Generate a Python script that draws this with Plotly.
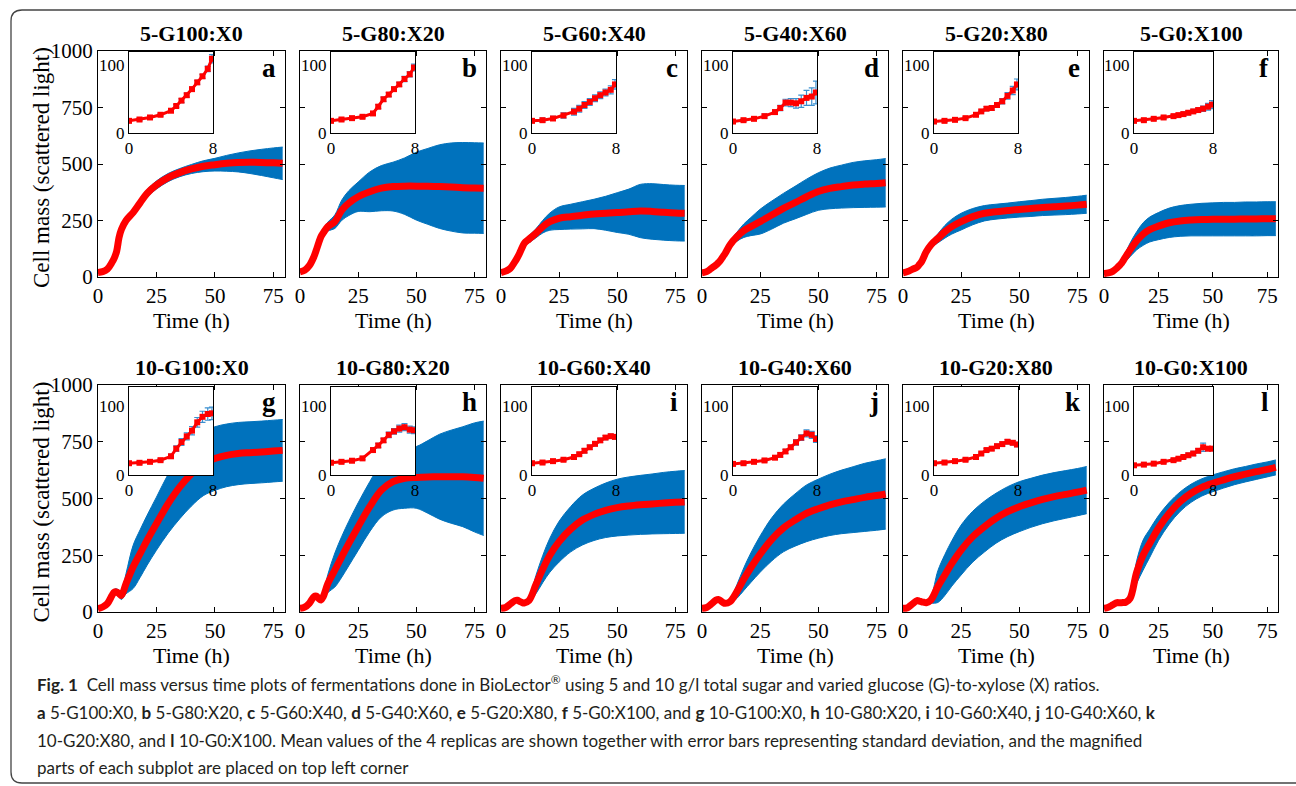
import plotly.graph_objects as go

# ---------------- data ----------------
TITLES = ["5-G100:X0", "5-G80:X20", "5-G60:X40", "5-G40:X60", "5-G20:X80", "5-G0:X100",
          "10-G100:X0", "10-G80:X20", "10-G60:X40", "10-G40:X60", "10-G20:X80", "10-G0:X100"]
LETTERS = ["a", "b", "c", "d", "e", "f", "g", "h", "i", "j", "k", "l"]

T_MAIN = [0, 2, 4, 6, 7, 8, 9, 10, 12, 15, 18, 21, 25, 30, 35, 40, 45, 50, 55, 60, 65, 70, 75, 79]

MEAN_A = [20, 24, 35, 65, 85, 115, 175, 210, 250, 285, 328, 370, 407, 440, 462, 478, 490, 497, 503, 507, 508, 507, 505, 503]
SD_A = [5, 5, 6, 8, 10, 12, 15, 15, 15, 16, 17, 17, 18, 18, 18, 20, 24, 28, 35, 42, 50, 58, 66, 72]
MEAN_B = [23, 30, 50, 90, 119, 150, 178, 195, 223, 245, 296, 327, 355, 377, 393, 400, 402, 402, 401, 400, 398, 395, 394, 393]
SD_B = [5, 5, 6, 8, 10, 12, 14, 16, 20, 30, 45, 55, 65, 88, 100, 108, 125, 150, 168, 185, 195, 200, 200, 200]
MEAN_C = [20, 26, 38, 68, 85, 105, 128, 149, 167, 193, 223, 245, 260, 267, 273, 279, 282, 285, 289, 292, 290, 286, 283, 282]
SD_C = [5, 5, 6, 8, 9, 10, 12, 14, 16, 20, 28, 38, 50, 55, 60, 65, 75, 88, 100, 118, 123, 123, 123, 123]
MEAN_D = [19, 24, 38, 53, 63, 75, 90, 105, 142, 178, 205, 223, 245, 274, 304, 329, 355, 378, 392, 400, 407, 411, 414, 417]
SD_D = [4, 5, 6, 7, 8, 9, 10, 12, 15, 20, 30, 40, 55, 62, 66, 72, 78, 83, 90, 95, 100, 103, 105, 107]
MEAN_E = [19, 24, 34, 43, 55, 68, 90, 112, 142, 171, 200, 223, 245, 267, 282, 289, 294, 299, 303, 308, 311, 314, 318, 322]
SD_E = [4, 5, 5, 6, 7, 8, 10, 12, 15, 20, 28, 33, 37, 36, 34, 33, 33, 34, 35, 36, 37, 38, 39, 40]
MEAN_F = [15, 18, 25, 40, 50, 60, 75, 90, 120, 160, 190, 210, 225, 240, 248, 252, 254, 255, 256, 256, 257, 257, 258, 258]
SD_F = [4, 5, 6, 8, 10, 12, 15, 20, 30, 40, 50, 55, 60, 65, 68, 70, 72, 73, 74, 74, 75, 75, 75, 75]
MEAN_G = [15, 22, 37, 73, 88, 88, 81, 73, 125, 198, 257, 316, 389, 477, 551, 609, 653, 676, 690, 698, 702, 705, 709, 712]
SD_G = [4, 5, 6, 10, 12, 14, 15, 18, 45, 95, 105, 110, 117, 130, 140, 142, 141, 140, 138, 137, 136, 136, 136, 136]
MEAN_H = [16, 21, 38, 68, 70, 60, 53, 68, 126, 185, 244, 302, 376, 464, 537, 574, 589, 593, 595, 596, 596, 596, 593, 589]
SD_H = [4, 5, 6, 8, 8, 8, 8, 10, 40, 75, 90, 98, 105, 110, 118, 125, 132, 136, 160, 187, 205, 220, 240, 252]
MEAN_I = [16, 20, 35, 50, 52, 47, 42, 40, 50, 120, 190, 250, 310, 365, 405, 430, 448, 460, 467, 472, 476, 480, 483, 485]
SD_I = [3, 4, 5, 6, 6, 6, 6, 6, 10, 40, 60, 75, 90, 100, 110, 115, 120, 125, 128, 130, 132, 135, 137, 138]
MEAN_J = [16, 20, 35, 52, 55, 50, 42, 38, 45, 90, 145, 195, 255, 320, 370, 405, 435, 455, 472, 485, 495, 505, 513, 520]
SD_J = [3, 4, 5, 6, 6, 6, 6, 6, 8, 30, 50, 65, 80, 95, 105, 115, 125, 130, 135, 140, 145, 150, 153, 155]
MEAN_K = [16, 19, 35, 50, 48, 45, 43, 41, 53, 112, 163, 214, 273, 332, 376, 413, 442, 464, 481, 496, 508, 518, 528, 537]
SD_K = [3, 4, 5, 6, 6, 6, 6, 6, 15, 70, 90, 100, 110, 112, 112, 110, 110, 110, 108, 107, 106, 105, 104, 104]
MEAN_L = [16, 21, 31, 41, 41, 41, 42, 43, 60, 175, 251, 302, 369, 435, 486, 523, 549, 567, 582, 596, 607, 618, 628, 637]
SD_L = [3, 4, 5, 5, 5, 5, 5, 6, 10, 50, 66, 62, 55, 48, 43, 40, 38, 37, 36, 35, 34, 34, 33, 33]

T_INSET = [0, 1, 2, 3, 4, 4.5, 5, 5.5, 6, 6.5, 7, 7.5, 7.9]

IMEAN_A = [18, 20, 23, 27, 33, 40, 48, 56, 65, 75, 84, 95, 110]
ISD_A = [2, 2, 2, 2, 2, 2, 3, 3, 3, 3, 3, 4, 6]
IMEAN_B = [18, 20, 22, 24, 29, 39, 50, 57, 65, 72, 80, 87, 97]
ISD_B = [2, 2, 2, 2, 2, 3, 3, 3, 3, 3, 4, 4, 5]
IMEAN_C = [18, 19, 21.5, 26, 31.5, 36, 41.5, 46, 51.5, 56, 60, 64, 72]
ISD_C = [2, 3, 3, 4, 5, 5, 5, 5, 5, 5, 5, 6, 7]
IMEAN_D = [17, 19, 21, 25, 31, 37, 45, 45, 44, 47, 52, 54, 60]
ISD_D = [2, 2, 2, 3, 3, 4, 5, 6, 7, 9, 11, 13, 17]
IMEAN_E = [17, 18, 19.5, 22, 27, 32, 36, 37, 41.5, 47, 55, 63, 72]
ISD_E = [2, 2, 2, 2, 2, 2, 3, 3, 3, 4, 5, 6, 8]
IMEAN_F = [18, 19, 21, 23, 25, 26.5, 28, 30, 32, 34, 36, 39, 42]
ISD_F = [2, 2, 2, 2, 2, 2, 3, 3, 3, 3, 4, 5, 6]
IMEAN_G = [17, 17.6, 19, 21.4, 27, 38, 47.6, 55.7, 64, 76, 84, 88, 89]
ISD_G = [2, 2, 2, 2, 3, 4, 5, 5, 6, 7, 8, 9, 9]
IMEAN_H = [17.7, 19, 20.6, 24, 36, 42.6, 50, 58, 63, 67, 69, 65.5, 64.6]
ISD_H = [2, 2, 2, 2, 3, 3, 3, 4, 4, 5, 5, 5, 5]
IMEAN_I = [17, 18, 20, 22, 26, 30, 35, 40, 45, 50, 54, 56, 55]
ISD_I = [2, 2, 2, 2, 2, 2, 3, 3, 3, 3, 3, 3, 3]
IMEAN_J = [16, 17, 19, 21, 25, 29, 34, 40, 47, 54, 60, 58, 52]
ISD_J = [2, 2, 2, 2, 2, 3, 3, 3, 4, 4, 5, 5, 5]
IMEAN_K = [17, 18, 20, 22, 26, 31, 36, 38, 41.6, 44.6, 48, 46.5, 44]
ISD_K = [2, 2, 2, 2, 2, 2, 2, 2, 3, 3, 3, 3, 3]
IMEAN_L = [14, 15, 16.4, 19, 21.4, 23.5, 26, 28.5, 31, 35, 40, 38, 38]
ISD_L = [2, 2, 2, 2, 2, 2, 2, 3, 3, 3, 6, 3, 3]

MEANS = [MEAN_A, MEAN_B, MEAN_C, MEAN_D, MEAN_E, MEAN_F, MEAN_G, MEAN_H, MEAN_I, MEAN_J, MEAN_K, MEAN_L]
SDS = [SD_A, SD_B, SD_C, SD_D, SD_E, SD_F, SD_G, SD_H, SD_I, SD_J, SD_K, SD_L]
IMEANS = [IMEAN_A, IMEAN_B, IMEAN_C, IMEAN_D, IMEAN_E, IMEAN_F, IMEAN_G, IMEAN_H, IMEAN_I, IMEAN_J, IMEAN_K, IMEAN_L]
ISDS = [ISD_A, ISD_B, ISD_C, ISD_D, ISD_E, ISD_F, ISD_G, ISD_H, ISD_I, ISD_J, ISD_K, ISD_L]

Y_TICKS = [0, 250, 500, 750, 1000]
X_TICKS = [0, 25, 50, 75]

CAPTION = [
    "<b>Fig. 1</b>  Cell mass versus time plots of fermentations done in BioLector<sup>®</sup> using 5 and 10 g/l total sugar and varied glucose (G)-to-xylose (X) ratios.",
    "<b>a</b> 5-G100:X0, <b>b</b> 5-G80:X20, <b>c</b> 5-G60:X40, <b>d</b> 5-G40:X60, <b>e</b> 5-G20:X80, <b>f</b> 5-G0:X100, and <b>g</b> 10-G100:X0, <b>h</b> 10-G80:X20, <b>i</b> 10-G60:X40, <b>j</b> 10-G40:X60, <b>k</b>",
    "10-G20:X80, and <b>l</b> 10-G0:X100. Mean values of the 4 replicas are shown together with error bars representing standard deviation, and the magnified",
    "parts of each subplot are placed on top left corner",
]

# ---------------- layout geometry (page pixels) ----------------
W, H = 1296, 786
def PX(x): return x / W
def PY(y): return 1 - y / H

COL_L = [98, 300, 501, 702, 903, 1104]
COL_R = [285, 486, 687, 888, 1089, 1278]
ROW_T = [51, 385]
ROW_B = [277, 612]
INSET_T = [52, 387]
INSET_B = [133, 475]
INSET_YMAX = [120, 127]

SERIF = "'Liberation Serif', 'Times New Roman', 'DejaVu Serif', serif"
SANS = "Lato, 'Open Sans', sans-serif"
BLUE = "#0072BD"
RED = "#FF0000"

fig = go.Figure()
layout = dict(width=W, height=H, margin=dict(l=0, r=0, t=0, b=0, pad=0, autoexpand=False),
              paper_bgcolor="white", plot_bgcolor="white", showlegend=False)
annotations = []

for i in range(12):
    r, c = divmod(i, 6)
    mi, ii = 2 * i + 1, 2 * i + 2
    mx, my = f"x{mi}", f"y{mi}"
    ix, iy = f"x{ii}", f"y{ii}"
    mean, sd = MEANS[i], SDS[i]
    lower = [m - s for m, s in zip(mean, sd)]
    upper = [m + s for m, s in zip(mean, sd)]

    fig.add_trace(go.Scatter(x=T_MAIN, y=lower, mode="lines", line=dict(color=BLUE, width=1, shape="spline"),
                             xaxis=mx, yaxis=my, hoverinfo="skip"))
    fig.add_trace(go.Scatter(x=T_MAIN, y=upper, mode="lines", line=dict(color=BLUE, width=1, shape="spline"),
                             fill="tonexty", fillcolor=BLUE, xaxis=mx, yaxis=my, hoverinfo="skip"))
    fig.add_trace(go.Scatter(x=T_MAIN, y=mean, mode="lines", line=dict(color=RED, width=7, shape="spline"),
                             xaxis=mx, yaxis=my))

    fig.add_trace(go.Scatter(x=T_INSET, y=IMEANS[i], mode="lines+markers",
                             line=dict(color=RED, width=3),
                             marker=dict(symbol="square", size=6, color=RED),
                             error_y=dict(type="data", array=ISDS[i], color="#3A8FD0", thickness=1.2, width=3),
                             xaxis=ix, yaxis=iy))

    axis_common = dict(showline=True, linecolor="black", linewidth=1, showgrid=False, zeroline=False,
                       automargin=False, tickfont=dict(family=SERIF, size=21, color="black"))
    layout[f"xaxis{mi}"] = dict(domain=[PX(COL_L[c]), PX(COL_R[c])], range=[0, 80], tickvals=X_TICKS,
                                ticks="inside", ticklen=5, tickcolor="black", mirror="ticks",
                                anchor=my, **axis_common)
    layout[f"yaxis{mi}"] = dict(domain=[PY(ROW_B[r]), PY(ROW_T[r])], range=[0, 1000], tickvals=Y_TICKS,
                                ticks="inside", ticklen=5, tickcolor="black", mirror="ticks",
                                showticklabels=(c == 0), anchor=mx, **axis_common)

    il = COL_L[c] + (31 if c < 5 else 30)
    iw = 84 if c < 5 else 79
    inset_common = dict(showline=True, linecolor="black", linewidth=1, showgrid=False, zeroline=False,
                        automargin=False, mirror=True, ticks="",
                        tickfont=dict(family=SERIF, size=17, color="black"))
    layout[f"xaxis{ii}"] = dict(domain=[PX(il), PX(il + iw)], range=[0, 8], tickvals=[0, 8],
                                anchor=iy, **inset_common)
    layout[f"yaxis{ii}"] = dict(domain=[PY(INSET_B[r]), PY(INSET_T[r])], range=[0, INSET_YMAX[r]],
                                tickvals=[0, 100], anchor=ix, **inset_common)

    cx = (COL_L[c] + COL_R[c]) / 2
    annotations.append(dict(text=f"<b>{TITLES[i]}</b>", x=PX(cx), y=PY(ROW_T[r] - 18), xref="paper", yref="paper",
                            showarrow=False, xanchor="center", yanchor="middle",
                            font=dict(family=SERIF, size=22, color="black")))
    annotations.append(dict(text="Time (h)", x=PX(cx), y=PY(ROW_B[r] + 43), xref="paper", yref="paper",
                            showarrow=False, xanchor="center", yanchor="middle",
                            font=dict(family=SERIF, size=22, color="black")))
    annotations.append(dict(text=f"<b>{LETTERS[i]}</b>", x=PX(COL_R[c] - 7), y=PY(ROW_T[r] + 17),
                            xref="paper", yref="paper", showarrow=False, xanchor="right", yanchor="middle",
                            font=dict(family=SERIF, size=27, color="black")))
    if c == 0:
        annotations.append(dict(text="Cell mass (scattered light)", x=PX(41), y=PY((ROW_T[r] + ROW_B[r]) / 2 + 4),
                                xref="paper", yref="paper", showarrow=False, textangle=-90,
                                xanchor="center", yanchor="middle",
                                font=dict(family=SERIF, size=23, color="black")))

CAP_Y = [683, 712, 740, 767]
for line, yy in zip(CAPTION, CAP_Y):
    annotations.append(dict(text=line, x=PX(35), y=PY(yy), xref="paper", yref="paper", showarrow=False,
                            xanchor="left", yanchor="middle", align="left",
                            font=dict(family=SANS, size=17, color="#231F20")))

layout["annotations"] = annotations
FB = 783  # bottom line of the frame
layout["shapes"] = [dict(type="path", xref="paper", yref="paper",
                         path=(f"M {PX(1300)} {PY(10)} L {PX(22)} {PY(10)} Q {PX(11)} {PY(10)} {PX(11)} {PY(21)} "
                               f"L {PX(11)} {PY(FB - 11)} Q {PX(11)} {PY(FB)} {PX(22)} {PY(FB)} L {PX(1300)} {PY(FB)}"),
                         line=dict(color="#444444", width=1.3))]

fig.update_layout(**layout)
fig.write_html("out.html")
